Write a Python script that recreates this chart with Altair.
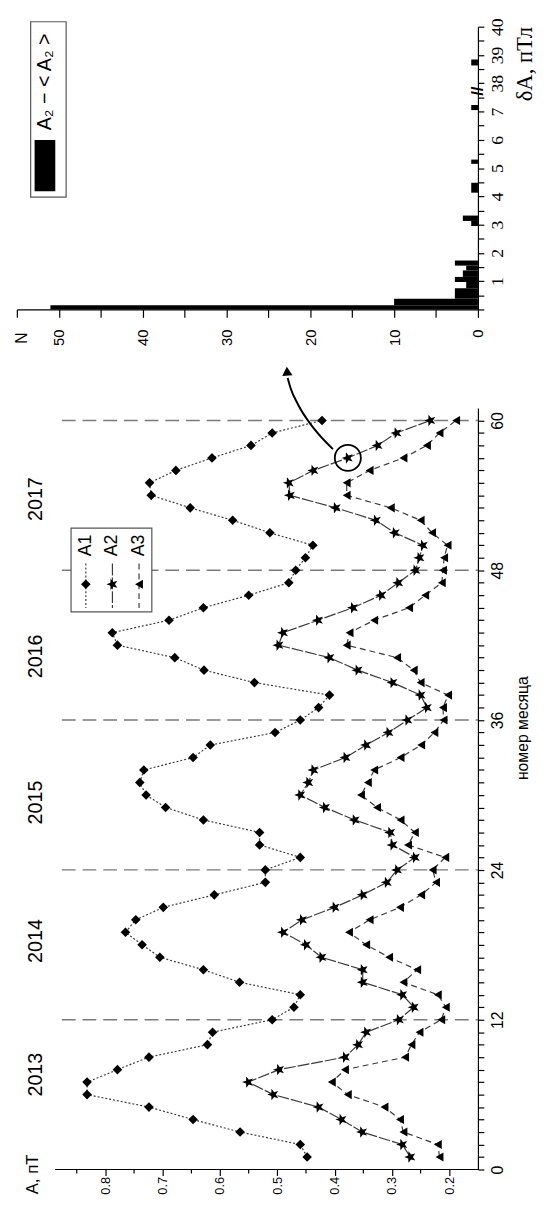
import altair as alt
import pandas as pd

# ---------------- data ----------------
months = list(range(1, 61))
a1 = [0.448, 0.460, 0.565, 0.647, 0.724, 0.832, 0.832, 0.779, 0.724, 0.622,
      0.613, 0.509, 0.471, 0.460, 0.566, 0.629, 0.705, 0.736, 0.765, 0.747,
      0.699, 0.610, 0.521, 0.521, 0.460, 0.531, 0.531, 0.629, 0.695, 0.729,
      0.740, 0.733, 0.647, 0.617, 0.504, 0.460, 0.428, 0.409, 0.540, 0.628,
      0.679, 0.779, 0.788, 0.689, 0.629, 0.550, 0.480, 0.468, 0.451, 0.438,
      0.513, 0.578, 0.652, 0.720, 0.723, 0.677, 0.614, 0.546, 0.509, 0.422]
a2 = [0.268, 0.282, 0.352, 0.388, 0.428, 0.507, 0.551, 0.497, 0.382, 0.359,
      0.345, 0.288, 0.262, 0.282, 0.351, 0.351, 0.423, 0.450, 0.490, 0.457,
      0.400, 0.351, 0.309, 0.291, 0.260, 0.299, 0.303, 0.365, 0.417, 0.460,
      0.446, 0.437, 0.381, 0.345, 0.306, 0.273, 0.239, 0.250, 0.299, 0.360,
      0.409, 0.498, 0.490, 0.429, 0.368, 0.319, 0.289, 0.259, 0.252, 0.246,
      0.295, 0.328, 0.398, 0.478, 0.480, 0.437, 0.377, 0.325, 0.292, 0.233]
a3 = [0.217, 0.220, 0.280, 0.286, 0.313, 0.377, 0.405, 0.382, 0.277, 0.266,
      0.252, 0.214, 0.206, 0.220, 0.280, 0.256, 0.305, 0.345, 0.375, 0.339,
      0.286, 0.249, 0.223, 0.229, 0.207, 0.272, 0.260, 0.285, 0.326, 0.354,
      0.342, 0.331, 0.285, 0.249, 0.226, 0.210, 0.211, 0.202, 0.250, 0.262,
      0.291, 0.379, 0.374, 0.331, 0.270, 0.242, 0.213, 0.211, 0.209, 0.203,
      0.230, 0.250, 0.302, 0.379, 0.379, 0.339, 0.280, 0.239, 0.217, 0.188]
series_names = ["A1", "A2", "A3"]

years = ["2013", "2014", "2015", "2016", "2017"]
year_month = [7.6, 18.3, 29.4, 41.1, 53.7]
year_bounds = [12, 24, 36, 48, 60]

a_major = [0.2, 0.3, 0.4, 0.5, 0.6, 0.7, 0.8]
a_minor = [0.25, 0.35, 0.45, 0.55, 0.65, 0.75, 0.85]
month_ticks = list(range(0, 61))

# annotation: highlighted point and arrow path (month, A)
circle_month = [57]
circle_a = [0.377]
arrow_month = [57.7, 59.4, 61.2, 62.6, 63.4]
arrow_a = [0.403, 0.437, 0.463, 0.477, 0.482]
arrow_tip_month = [63.95]
arrow_tip_a = [0.483]

# histogram of dA (pTl)
hist_lo = [0.00, 0.15, 0.38, 0.75, 0.97, 1.15, 1.38, 1.55, 2.95, 3.13, 4.13, 5.15, 7.05, 38.63]
hist_hi = [0.15, 0.38, 0.75, 0.97, 1.15, 1.38, 1.55, 1.73, 3.13, 3.32, 4.48, 5.30, 7.23, 38.84]
hist_n = [51, 10, 2.75, 1.4, 2.75, 1.8, 1.4, 2.75, 0.8, 1.8, 0.8, 0.8, 0.8, 0.8]
n_ticks = list(range(0, 56, 5))
p_ticks = [i * 0.5 for i in range(21)]

# ---------------- layout / styles ----------------
SANS = "Liberation Sans"
SERIF = "Liberation Serif"
LINE_COLOR = "#3a3a3a"
# five-pointed star lying on its side (the whole figure is turned by 90 degrees)
STAR = ("M-1,0L-0.34,-0.247L-0.309,-0.951L0.13,-0.4L0.809,-0.588L0.42,0"
        "L0.809,0.588L0.13,0.4L-0.309,0.951L-0.34,0.247Z")

W = 468           # common plot width
H = 1160          # whole drawing height (histogram on top, main panel below)
H_HIST = 287      # histogram panel bottom
MAIN_TOP = 387    # main panel top

A_SCALE = alt.Scale(domain=[0.15, 0.9545], range=[W, 0], nice=False, zero=False)
M_SCALE = alt.Scale(domain=[0, 61], range=[H, MAIN_TOP], nice=False, zero=False)
N_SCALE = alt.Scale(domain=[0, 55], range=[W, 0], nice=False, zero=False)
P_SCALE = alt.Scale(domain=[0, 10], range=[H_HIST, 0], nice=False, zero=False)

one = pd.DataFrame({"k": [0]})

series_df = pd.DataFrame({
    "month": months * 3,
    "A": a1 + a2 + a3,
    "series": ["A1"] * 60 + ["A2"] * 60 + ["A3"] * 60,
})

x_axis = alt.Axis(orient="bottom", values=a_major, format=".1f", labelAngle=270,
                  labelAlign="right", labelBaseline="middle", tickSize=6, labelPadding=1,
                  domain=False, grid=False, title=None, labelFont=SANS, labelFontSize=13,
                  labelFlush=False, labelBound=False, labelOverlap=False)
y_axis = alt.Axis(orient="right", values=month_ticks,
                  labelExpr="datum.value % 12 == 0 ? datum.label : ''",
                  labelAngle=270, labelAlign="center", labelBaseline="top",
                  tickSize=6, labelPadding=6, domain=True, grid=False, title=None,
                  labelFont=SANS, labelFontSize=16, labelFlush=False,
                  labelBound=False, labelOverlap=False)


def mx(field):
    return alt.X(field, scale=A_SCALE, axis=x_axis)


def my(field):
    return alt.Y(field, scale=M_SCALE, axis=y_axis)


styles = {
    "A1": dict(dash=[2, 2], shape="diamond", size=95),
    "A2": dict(dash=[12, 2], shape=STAR, size=150),
    "A3": dict(dash=[6, 4], shape="triangle-left", size=85),
}

layers = []
bounds_df = pd.DataFrame({"m": year_bounds, "x0": [0.876] * 5, "x1": [0.15] * 5})
layers.append(
    alt.Chart(bounds_df).mark_rule(color="#7a7a7a", strokeWidth=1.5, strokeDash=[14, 7]).encode(
        y=my("m:Q"), x=mx("x0:Q"), x2="x1:Q",
    )
)

for name in series_names:
    st = styles[name]
    base = alt.Chart(series_df).transform_filter(alt.datum.series == name)
    layers.append(
        base.mark_line(color=LINE_COLOR, strokeWidth=1.2, strokeDash=st["dash"]).encode(
            x=mx("A:Q"), y=my("month:Q"), order="month:Q",
        )
    )
    layers.append(
        base.mark_point(shape=st["shape"], size=st["size"], filled=True, color="black",
                        opacity=1).encode(x=mx("A:Q"), y=my("month:Q"))
    )

# A axis line and minor ticks
layers.append(
    alt.Chart(pd.DataFrame({"m": [0], "x0": [0.8877], "x1": [0.15]})).mark_rule(
        color="black", strokeWidth=1.2).encode(y=my("m:Q"), x=mx("x0:Q"), x2="x1:Q")
)
layers.append(
    alt.Chart(pd.DataFrame({"v": a_minor})).mark_rule(color="black", strokeWidth=1.2).encode(
        x=mx("v:Q"), y=alt.value(H), y2=alt.value(H + 4),
    )
)

# year labels
layers.append(
    alt.Chart(pd.DataFrame({"year": years, "m": year_month, "a": [0.9203] * 5})).mark_text(
        angle=270, font=SANS, fontSize=20, align="center", baseline="middle", color="black").encode(
        y=my("m:Q"), x=mx("a:Q"), text="year:N",
    )
)

# circle + arrow annotation
layers.append(
    alt.Chart(pd.DataFrame({"m": circle_month, "a": circle_a})).mark_point(
        shape="circle", size=700, filled=False, color="black", strokeWidth=1.8, opacity=1).encode(
        x=mx("a:Q"), y=my("m:Q"))
)
layers.append(
    alt.Chart(pd.DataFrame({"m": arrow_month, "a": arrow_a, "i": list(range(len(arrow_a)))})).mark_line(
        color="black", strokeWidth=2, interpolate="monotone").encode(
        x=mx("a:Q"), y=my("m:Q"), order="i:Q")
)
layers.append(
    alt.Chart(pd.DataFrame({"m": arrow_tip_month, "a": arrow_tip_a})).mark_point(
        shape="triangle-up", size=110, filled=True, color="black", opacity=1, angle=356).encode(
        x=mx("a:Q"), y=my("m:Q"))
)

# axis titles of the main panel
layers.append(
    alt.Chart(one).mark_text(angle=270, font=SANS, fontSize=17, color="black").encode(
        x=alt.value(16), y=alt.value(1165), text=alt.value("A, пТ"))
)
layers.append(
    alt.Chart(one).mark_text(angle=270, font=SANS, fontSize=16, color="black").encode(
        x=alt.value(514), y=alt.value(712), text=alt.value("номер месяца"))
)

# legend of main panel (drawn rotated)
layers.append(
    alt.Chart(one).mark_rect(fill="white", stroke="#555", strokeWidth=1.2).encode(
        x=alt.value(55), x2=alt.value(137),
        y=alt.value(MAIN_TOP + 122), y2=alt.value(MAIN_TOP + 207))
)
leg_x = {"A1": 70, "A2": 97, "A3": 124}
for name in series_names:
    st = styles[name]
    layers.append(
        alt.Chart(one).mark_rule(color=LINE_COLOR, strokeWidth=1.2, strokeDash=st["dash"]).encode(
            x=alt.value(leg_x[name]), y=alt.value(MAIN_TOP + 158), y2=alt.value(MAIN_TOP + 203))
    )
    layers.append(
        alt.Chart(one).mark_point(shape=st["shape"], size=st["size"], filled=True, color="black",
                                  opacity=1).encode(
            x=alt.value(leg_x[name]), y=alt.value(MAIN_TOP + 179))
    )
    layers.append(
        alt.Chart(one).mark_text(angle=270, font=SANS, fontSize=18, color="black").encode(
            x=alt.value(leg_x[name]), y=alt.value(MAIN_TOP + 139.5), text=alt.value(name))
    )

main_group = alt.layer(*layers)

# ---------------- histogram ----------------
def to_p(v):
    return v if v <= 7.5 else v - 30

hist_df = pd.DataFrame({
    "p0": [to_p(v) for v in hist_lo],
    "p1": [to_p(v) for v in hist_hi],
    "n": hist_n,
    "z": [0] * len(hist_n),
})

n_axis = alt.Axis(orient="bottom", offset=-(H - H_HIST), values=n_ticks,
                  labelExpr="datum.value % 10 == 0 ? datum.label : ''",
                  labelAngle=270, labelAlign="right", labelBaseline="middle", tickSize=8,
                  labelPadding=12, grid=False, title=None, labelFont=SANS, labelFontSize=15,
                  labelFlush=False, labelBound=False, labelOverlap=False)
p_axis = alt.Axis(orient="right", values=p_ticks,
                  labelExpr="datum.value >= 1 && datum.value % 1 == 0 ? (datum.value <= 7 ? '' + datum.value : '' + (datum.value + 30)) : ''",
                  labelAngle=270, labelAlign="center", labelBaseline="top", tickSize=6,
                  labelPadding=5, grid=False, title=None, labelFont=SERIF, labelFontSize=18,
                  labelFlush=False, labelBound=False, labelOverlap=False)

hlayers = [
    alt.Chart(hist_df).mark_bar(color="black").encode(
        x=alt.X("n:Q", scale=N_SCALE, axis=n_axis),
        x2="z:Q",
        y=alt.Y("p0:Q", scale=P_SCALE, axis=p_axis),
        y2="p1:Q",
    ),
    alt.Chart(pd.DataFrame({"p": [7.72]})).mark_text(
        angle=270, font=SANS, fontSize=17, fontWeight="bold", color="black").encode(
        x=alt.value(W), y=alt.Y("p:Q", scale=P_SCALE, axis=p_axis), text=alt.value("//")),
    alt.Chart(one).mark_text(angle=270, font=SERIF, fontSize=23, color="black").encode(
        x=alt.value(516), y=alt.value(38), text=alt.value("δA, пТл")),
    alt.Chart(one).mark_text(angle=270, font=SANS, fontSize=16, color="black").encode(
        x=alt.value(5.5), y=alt.value(316), text=alt.value("N")),
    alt.Chart(one).mark_rect(fill="white", stroke="#555", strokeWidth=1.2).encode(
        x=alt.value(14), x2=alt.value(50), y=alt.value(-5), y2=alt.value(173)),
    alt.Chart(one).mark_rect(fill="black").encode(
        x=alt.value(18), x2=alt.value(39), y=alt.value(115), y2=alt.value(167)),
    alt.Chart(one).mark_text(angle=270, font=SANS, fontSize=20, color="black").encode(
        x=alt.value(28.5), y=alt.value(56), text=alt.value("A₂ − < A₂ >")),
]
hist_group = alt.layer(*hlayers)

chart = alt.layer(main_group, hist_group).resolve_scale(
    x="independent", y="independent"
).properties(
    width=W, height=H,
    autosize=alt.AutoSizeParams(type="none"),
    padding={"left": 9, "top": 10, "right": 63, "bottom": 24},
).configure_view(stroke=None).configure_axis(
    labelColor="black", tickColor="black", domainColor="black",
    domainWidth=1.2, tickWidth=1.2
)

chart.save("out.html", embed_options={"renderer": "svg", "actions": False})
